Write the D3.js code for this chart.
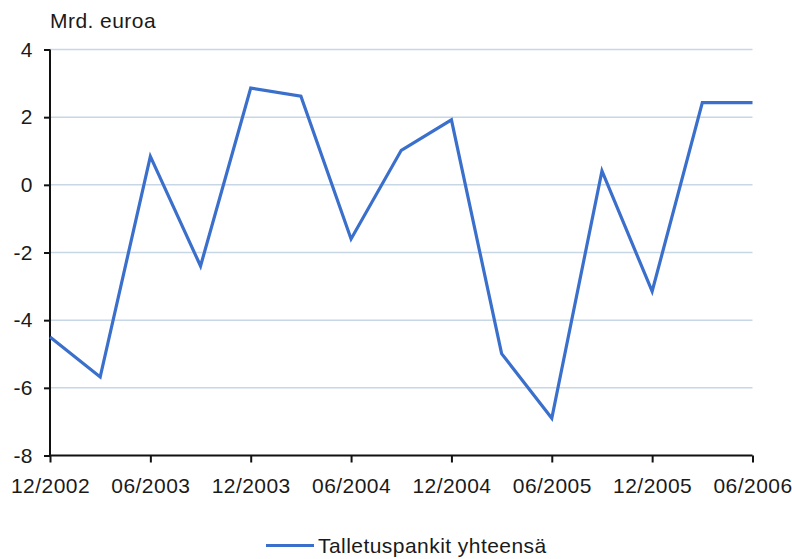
<!DOCTYPE html>
<html>
<head>
<meta charset="utf-8">
<script src="https://cdn.jsdelivr.net/npm/d3@7"></script>
<style>
  html, body { margin: 0; padding: 0; background: #fff; }
  svg { display: block; font-family: "Liberation Sans", Arial, sans-serif; }
  svg text { letter-spacing: 0.45px; }
</style>
</head>
<body>
<svg id="chart" width="792" height="559"></svg>
<script>
// Quarterly periods, 12/2002 – 06/2006
const periods = ["12/2002","03/2003","06/2003","09/2003","12/2003","03/2004","06/2004",
                 "09/2004","12/2004","03/2005","06/2005","09/2005","12/2005","03/2006","06/2006"];
// Talletuspankit yhteensä, Mrd. euroa
const values = [-4.5, -5.68, 0.84, -2.4, 2.86, 2.62, -1.6, 1.02, 1.92, -4.99, -6.9, 0.41, -3.15, 2.43, 2.43];
// Tick labels on the x axis (every second quarter)
const xTickLabels = ["12/2002","06/2003","12/2003","06/2004","12/2004","06/2005","12/2005","06/2006"];
const yTicks = [-8, -6, -4, -2, 0, 2, 4];
const seriesName = "Talletuspankit yhteensä";
const unitLabel = "Mrd. euroa";

const svg = d3.select("#chart");
const plotLeft = 50, plotRight = 752.5, plotTop = 49.5, plotBottom = 455.5;
const fontSize = 21;

const x = d3.scalePoint().domain(periods).range([plotLeft, plotRight]);
const y = d3.scaleLinear().domain([-8, 4]).range([plotBottom, plotTop]);

// Horizontal gridlines
svg.append("g")
  .selectAll("line")
  .data(yTicks.filter(v => v !== -8))
  .join("line")
  .attr("x1", plotLeft).attr("x2", plotRight)
  .attr("y1", d => y(d)).attr("y2", d => y(d))
  .attr("stroke", "#c8d7e6")
  .attr("stroke-width", 1.5);

// Y axis
const yAxis = svg.append("g")
  .attr("transform", `translate(${plotLeft},0)`)
  .call(d3.axisLeft(y).tickValues(yTicks).tickSize(6).tickPadding(11).tickFormat(d3.format("d")));
yAxis.select(".domain").attr("stroke", "#111").attr("stroke-width", 2).attr("d", `M0,${plotTop}V${plotBottom}`);
yAxis.selectAll(".tick line").attr("stroke", "#111").attr("stroke-width", 2);
yAxis.selectAll(".tick text")
  .attr("fill", "#1a1a1a")
  .style("font-size", fontSize + "px")
  .style("font-family", '"Liberation Sans", Arial, sans-serif')
  .text(d => d < 0 ? "-" + Math.abs(d) : d);

// X axis
const xAxis = svg.append("g")
  .attr("transform", `translate(0,${plotBottom})`)
  .call(d3.axisBottom(x).tickValues(xTickLabels).tickSize(7).tickPadding(16));
xAxis.select(".domain").attr("stroke", "#111").attr("stroke-width", 2).attr("d", `M${plotLeft},0H${plotRight}`);
xAxis.selectAll(".tick line").attr("stroke", "#111").attr("stroke-width", 2);
xAxis.selectAll(".tick text")
  .attr("fill", "#1a1a1a")
  .style("font-size", fontSize + "px")
  .style("font-family", '"Liberation Sans", Arial, sans-serif');

// Unit label
svg.append("text")
  .attr("x", plotLeft).attr("y", 28)
  .attr("fill", "#1a1a1a")
  .style("font-size", fontSize + "px")
  .text(unitLabel);

// Series line
const line = d3.line()
  .x((d, i) => x(periods[i]))
  .y(d => y(d));
svg.append("path")
  .datum(values)
  .attr("d", line)
  .attr("fill", "none")
  .attr("stroke", "#3a6fcc")
  .attr("stroke-width", 3.2)
  .attr("stroke-linejoin", "miter");

// Legend
const legend = svg.append("g");
legend.append("line")
  .attr("x1", 266).attr("x2", 314)
  .attr("y1", 545.5).attr("y2", 545.5)
  .attr("stroke", "#3a6fcc").attr("stroke-width", 3.2);
legend.append("text")
  .attr("x", 318).attr("y", 553)
  .attr("fill", "#1a1a1a")
  .style("font-size", fontSize + "px")
  .text(seriesName);
</script>
</body>
</html>
